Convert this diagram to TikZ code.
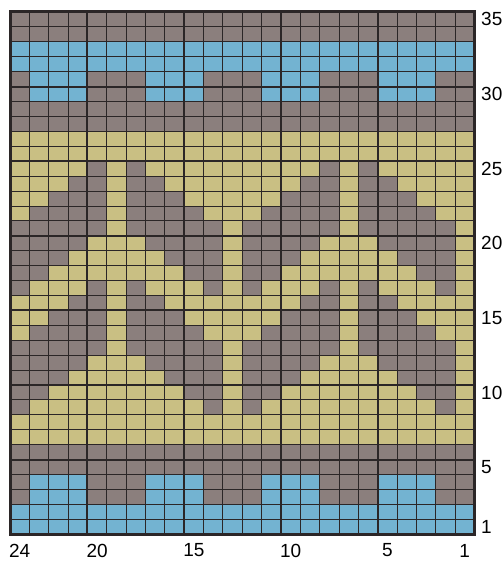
\documentclass[tikz,border=0pt]{standalone}
\usepackage{fontspec}
\setmainfont{Liberation Sans}
\usepackage{xstring}
\definecolor{kG}{HTML}{8B7F7D}
\definecolor{kB}{HTML}{73B3D1}
\definecolor{kY}{HTML}{C9BF83}
\definecolor{kline}{HTML}{2B2627}
\begin{document}
\begin{tikzpicture}[x=1pt,y=-1pt,
  thinline/.style={draw=kline,line width=0.9pt},
  thickline/.style={draw=kline,line width=2pt},
  frameline/.style={draw=kline,line width=3pt},
  lbl/.style={font=\fontsize{19}{22}\selectfont,inner sep=0pt,text=black}]
\useasboundingbox (0,0) rectangle (502,561);
\def\X{10}\def\Y{12}\def\cw{19.35}\def\rh{14.92}
\pgfmathsetmacro\Xe{\X+24*\cw}
\pgfmathsetmacro\Ye{\Y+35*\rh}
% cells, rows from top (row 35) to bottom (row 1)
\foreach \pat [count=\r from 0] in {
GGGGGGGGGGGGGGGGGGGGGGGG,
GGGGGGGGGGGGGGGGGGGGGGGG,
BBBBBBBBBBBBBBBBBBBBBBBB,
BBBBBBBBBBBBBBBBBBBBBBBB,
GBBBGGGBBBGGGBBBGGGBBBGG,
GBBBGGGBBBGGGBBBGGGBBBGG,
GGGGGGGGGGGGGGGGGGGGGGGG,
GGGGGGGGGGGGGGGGGGGGGGGG,
YYYYYYYYYYYYYYYYYYYYYYYY,
YYYYYYYYYYYYYYYYYYYYYYYY,
YYYYGYGYYYYYYYYYGYGYYYYY,
YYYGGYGGYYYYYYYGGYGGYYYY,
YYGGGYGGGYYYYYGGGYGGGYYY,
YGGGGYGGGGYYYGGGGYGGGGYY,
GGGGGYGGGGGYGGGGGYGGGGGY,
GGGGYYYGGGGYGGGGYYYGGGGY,
GGGYYYYYGGGYGGGYYYYYGGGY,
GGYYYYYYYGGYGGYYYYYYYGGY,
GYYYGYGYYYGYGYYYGYGYYYGY,
YYYGGYGGYYYYYYYGGYGGYYYY,
YYGGGYGGGYYYYYGGGYGGGYYY,
YGGGGYGGGGYYYGGGGYGGGGYY,
GGGGGYGGGGGYGGGGGYGGGGGY,
GGGGYYYGGGGYGGGGYYYGGGGY,
GGGYYYYYGGGYGGGYYYYYGGGY,
GGYYYYYYYGGYGGYYYYYYYGGY,
GYYYYYYYYYGYGYYYYYYYYYGY,
YYYYYYYYYYYYYYYYYYYYYYYY,
YYYYYYYYYYYYYYYYYYYYYYYY,
GGGGGGGGGGGGGGGGGGGGGGGG,
GGGGGGGGGGGGGGGGGGGGGGGG,
GBBBGGGBBBGGGBBBGGGBBBGG,
GBBBGGGBBBGGGBBBGGGBBBGG,
BBBBBBBBBBBBBBBBBBBBBBBB,
BBBBBBBBBBBBBBBBBBBBBBBB} {
  \foreach \i in {0,...,23} {
    \pgfmathtruncatemacro\j{\i+1}
    \StrChar{\pat}{\j}[\ch]
    \fill[fill=k\ch] ({\X+\i*\cw},{\Y+\r*\rh}) rectangle ++(\cw,\rh);
  }
}
% thin grid lines
\foreach \k in {1,...,23}
  \draw[thinline] ({\X+\k*\cw},\Y) -- ({\X+\k*\cw},\Ye);
\foreach \m in {1,...,34}
  \draw[thinline] (\X,{\Y+\m*\rh}) -- (\Xe,{\Y+\m*\rh});
% thick lines every 5 stitches / rows
\foreach \k in {4,9,14,19}
  \draw[thickline] ({\X+\k*\cw},\Y) -- ({\X+\k*\cw},\Ye);
\foreach \m in {5,10,15,20,25,30}
  \draw[thickline] (\X,{\Y+\m*\rh}) -- (\Xe,{\Y+\m*\rh});
% frame
\draw[frameline] (\X,\Y) rectangle (\Xe,\Ye);
% row numbers
\foreach \n in {35,30,25,20,15,10,5,1}
  \node[lbl,anchor=west] (r\n) at (481,{\Y+(35-\n+0.5)*\rh}) {\n};
% stitch numbers
\foreach \n in {24,20,15,10,5,1}
  \node[lbl,anchor=center] (c\n) at ({\X+(24-\n+0.5)*\cw},550.5) {\n};
\end{tikzpicture}
\end{document}
